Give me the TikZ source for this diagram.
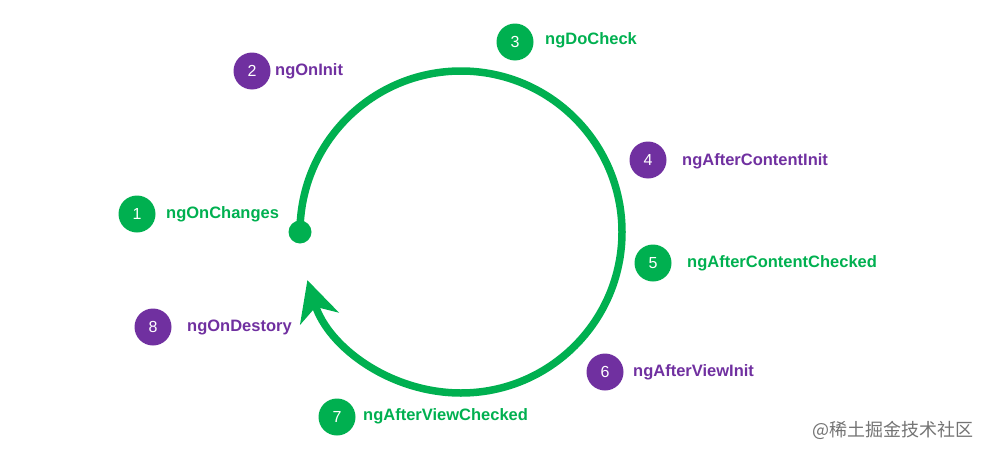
\documentclass[tikz,border=0pt]{standalone}
\usepackage{fontspec}
\setmainfont{Liberation Sans}
\newfontfamily\cjkfont{Noto Sans CJK SC}
\usetikzlibrary{arrows.meta, positioning}
\usepackage{xcolor}
\definecolor{hookgreen}{HTML}{00B050}
\definecolor{hookpurple}{HTML}{7030A0}

\begin{document}
\begin{tikzpicture}[
    x=1pt, y=1pt,
    step badge/.style={circle, inner sep=0pt, minimum size=37pt, text=white, font=\fontsize{16}{16}\selectfont},
    green badge/.style={step badge, fill=hookgreen},
    purple badge/.style={step badge, fill=hookpurple},
    hook label/.style={anchor=west, inner sep=0pt, font=\fontsize{16.5}{18}\selectfont\bfseries},
    green label/.style={hook label, text=hookgreen},
    purple label/.style={hook label, text=hookpurple},
    cycle line/.style={draw=hookgreen, line width=7.5pt}
]
    \useasboundingbox (0,0) rectangle (990,-455);

    % Steps
    \node[green badge]  (N1) at (137,-214) {1};
    \node[purple badge] (N2) at (252,-71)  {2};
    \node[green badge]  (N3) at (515,-42)  {3};
    \node[purple badge] (N4) at (648,-160) {4};
    \node[green badge]  (N5) at (653,-263) {5};
    \node[purple badge] (N6) at (605,-372) {6};
    \node[green badge]  (N7) at (337,-417) {7};
    \node[purple badge] (N8) at (153,-327) {8};

    % Labels
    \node[green label]  (L1) at (166,-214) {ngOnChanges};
    \node[purple label] (L2) at (275,-71)  {ngOnInit};
    \node[green label]  (L3) at (545,-40)  {ngDoCheck};
    \node[purple label] (L4) at (682,-161) {ngAfterContentInit};
    \node[green label]  (L5) at (687,-263) {ngAfterContentChecked};
    \node[purple label] (L6) at (633,-372) {ngAfterViewInit};
    \node[green label]  (L7) at (363,-416) {ngAfterViewChecked};
    \node[purple label] (L8) at (187,-327) {ngOnDestory};

    % Cycle
    \node[circle, fill=hookgreen, inner sep=0pt, minimum size=23pt] (start) at (300,-232) {};
    \draw[cycle line, -{Stealth[length=40pt, width=40pt, inset=12pt]}]
        (start.center) arc[start angle=180, end angle=-162.6, radius=161];

    % Watermark
    \node[anchor=west, inner sep=0pt, text=black!55, font=\cjkfont\fontsize{18}{19}\selectfont] (mark) at (812,-430) {@稀土掘金技术社区};
\end{tikzpicture}
\end{document}
